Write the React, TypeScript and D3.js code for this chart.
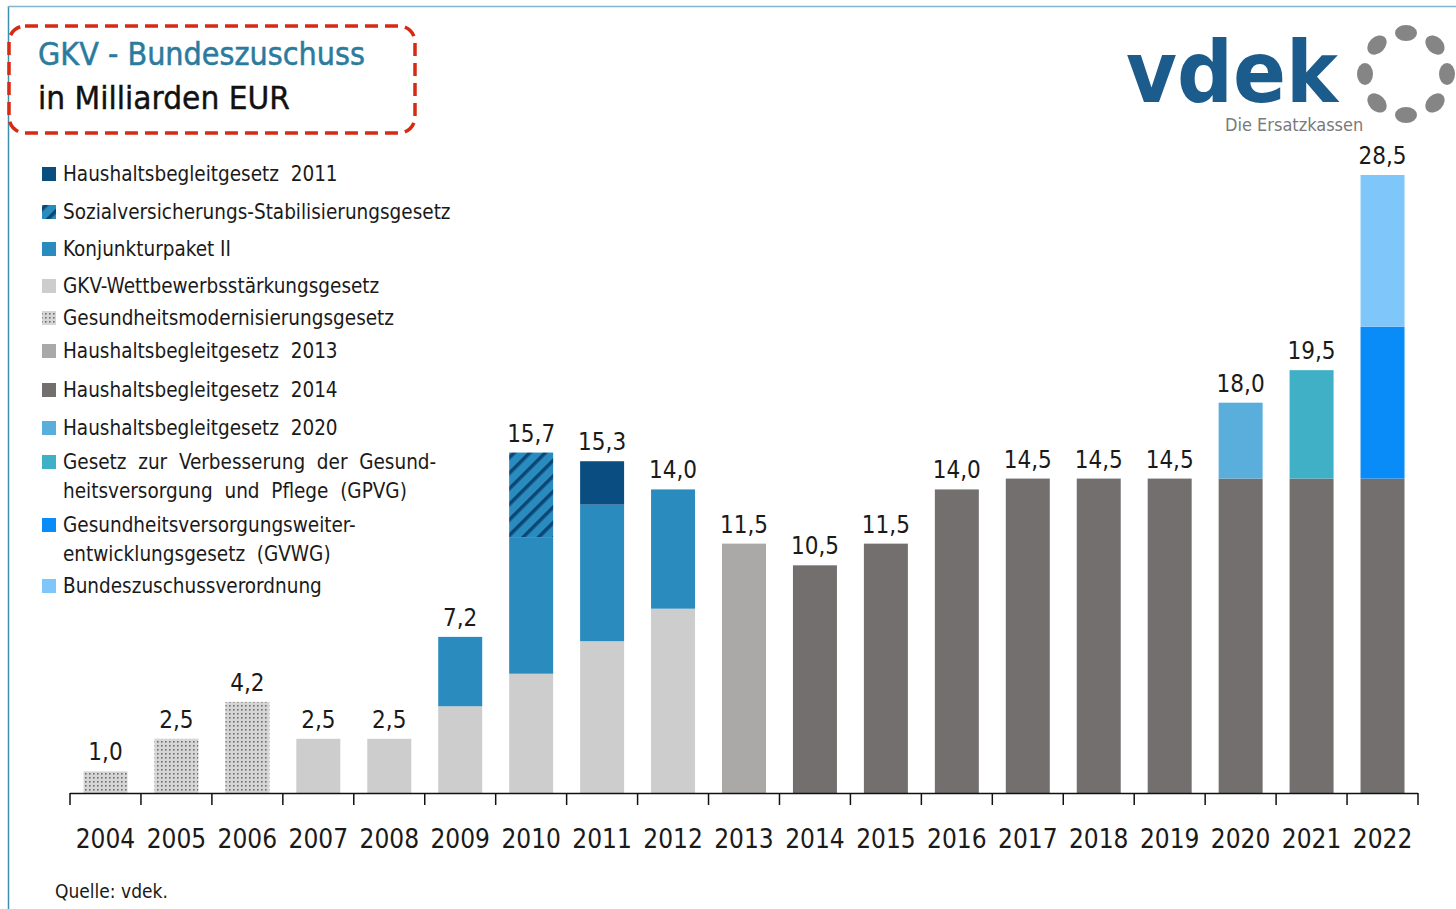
import * as d3 from "d3";

// Bundeszuschuss je Jahr, Mrd. EUR, nach Gesetz
const years = ["2004", "2005", "2006", "2007", "2008", "2009", "2010", "2011", "2012", "2013", "2014", "2015", "2016", "2017", "2018", "2019", "2020", "2021", "2022"];
const gmg = [1.0, 2.5, 4.2, 0, 0, 0, 0, 0, 0, 0, 0, 0, 0, 0, 0, 0, 0, 0, 0];
const gkvWsg = [0, 0, 0, 2.5, 2.5, 4.0, 5.5, 7.0, 8.5, 0, 0, 0, 0, 0, 0, 0, 0, 0, 0];
const hbg2013 = [0, 0, 0, 0, 0, 0, 0, 0, 0, 11.5, 0, 0, 0, 0, 0, 0, 0, 0, 0];
const hbg2014 = [0, 0, 0, 0, 0, 0, 0, 0, 0, 0, 10.5, 11.5, 14.0, 14.5, 14.5, 14.5, 14.5, 14.5, 14.5];
const konjunktur = [0, 0, 0, 0, 0, 3.2, 6.3, 6.3, 5.5, 0, 0, 0, 0, 0, 0, 0, 0, 0, 0];
const sozStab = [0, 0, 0, 0, 0, 0, 3.9, 0, 0, 0, 0, 0, 0, 0, 0, 0, 0, 0, 0];
const hbg2011 = [0, 0, 0, 0, 0, 0, 0, 2.0, 0, 0, 0, 0, 0, 0, 0, 0, 0, 0, 0];
const hbg2020 = [0, 0, 0, 0, 0, 0, 0, 0, 0, 0, 0, 0, 0, 0, 0, 0, 3.5, 0, 0];
const gpvg = [0, 0, 0, 0, 0, 0, 0, 0, 0, 0, 0, 0, 0, 0, 0, 0, 0, 5.0, 0];
const gvwg = [0, 0, 0, 0, 0, 0, 0, 0, 0, 0, 0, 0, 0, 0, 0, 0, 0, 0, 7.0];
const bzv = [0, 0, 0, 0, 0, 0, 0, 0, 0, 0, 0, 0, 0, 0, 0, 0, 0, 0, 7.0];

const seriesKeys = ["gmg", "gkvWsg", "hbg2013", "hbg2014", "konjunktur", "sozStab", "hbg2011", "hbg2020", "gpvg", "gvwg", "bzv"];
const seriesData: Record<string, number[]> = { gmg, gkvWsg, hbg2013, hbg2014, konjunktur, sozStab, hbg2011, hbg2020, gpvg, gvwg, bzv };
const fills: Record<string, string> = {
  gmg: "url(#dots)",
  gkvWsg: "#cdcdcd",
  hbg2013: "#aba9a8",
  hbg2014: "#736f6f",
  konjunktur: "#2a8bbf",
  sozStab: "url(#hatch)",
  hbg2011: "#0a4d80",
  hbg2020: "#5aaedb",
  gpvg: "#40b0c6",
  gvwg: "#0a8cf8",
  bzv: "#7fc7fb",
};

// legend, top to bottom
const legendKeys = ["hbg2011", "sozStab", "konjunktur", "gkvWsg", "gmg", "hbg2013", "hbg2014", "hbg2020", "gpvg", "gvwg", "bzv"];
const legendLabels = [
  ["Haushaltsbegleitgesetz  2011"],
  ["Sozialversicherungs-Stabilisierungsgesetz"],
  ["Konjunkturpaket II"],
  ["GKV-Wettbewerbsstärkungsgesetz"],
  ["Gesundheitsmodernisierungsgesetz"],
  ["Haushaltsbegleitgesetz  2013"],
  ["Haushaltsbegleitgesetz  2014"],
  ["Haushaltsbegleitgesetz  2020"],
  ["Gesetz  zur  Verbesserung  der  Gesund-", "heitsversorgung  und  Pflege  (GPVG)"],
  ["Gesundheitsversorgungsweiter-", "entwicklungsgesetz  (GVWG)"],
  ["Bundeszuschussverordnung"],
];
const legendY = [174, 212, 249, 286, 318, 351, 390, 428, 462, 525, 586];

const FONT = "'DejaVu Sans Condensed', 'DejaVu Sans', sans-serif";

export default function App() {
  const W = 1456;
  const H = 909;
  const base = 793;

  const rows = years.map((y, i) => {
    const r: any = { year: y };
    seriesKeys.forEach((k) => (r[k] = seriesData[k][i]));
    return r;
  });
  const stack = d3.stack<any>().keys(seriesKeys)(rows);
  const totals = years.map((_, i) => d3.sum(seriesKeys, (k) => seriesData[k][i]));

  const x = d3.scaleBand<string>().domain(years).range([70, 1418]).paddingInner(0.38).paddingOuter(0.19);
  const y = d3.scaleLinear().domain([0, 28.5]).range([base, 175]);
  const gap = (x.step() - x.bandwidth()) / 2;
  const tickXs = years.map((yr) => (x(yr) as number) - gap).concat([1418]);
  const fmt = (v: number) => v.toFixed(1).replace(".", ",");

  // vdek logo dots
  const dotAngles = d3.range(8).map((i) => (i * 45 - 90) * Math.PI / 180);

  return (
    <svg width={W} height={H} style={{ position: "absolute", left: 0, top: 0, background: "#fff" }}>
      <defs>
        <pattern id="dots" width="4" height="4" patternUnits="userSpaceOnUse">
          <rect width="4" height="4" fill="#d6d6d6" />
          <rect x="1" y="1" width="1.6" height="1.6" fill="#6e6e6e" />
        </pattern>
        <pattern id="hatch" width="11" height="11" patternUnits="userSpaceOnUse" patternTransform="rotate(45)">
          <rect width="11" height="11" fill="#2a8bbf" />
          <rect x="0" y="0" width="3.5" height="11" fill="#0b4775" />
        </pattern>
      </defs>
      <rect x={0} y={0} width={W} height={H} fill="#fff" />
      {/* frame */}
      <line x1={8.5} y1={6} x2={8.5} y2={H} stroke="#3d8fb0" strokeWidth={1.5} />
      <line x1={8} y1={6.5} x2={W} y2={6.5} stroke="#7fb8cc" strokeWidth={1.5} />

      {/* title */}
      <rect x={9} y={26} width={406} height={107} rx={16} fill="none" stroke="#d62b12" strokeWidth={3.5} strokeDasharray="13 7" />
      <text x={38} y={65} fontFamily={FONT} fontSize={32} fill="#2b7b9e" stroke="#2b7b9e" strokeWidth={0.5} textLength={327} lengthAdjust="spacingAndGlyphs">GKV - Bundeszuschuss</text>
      <text x={38} y={109} fontFamily={FONT} fontSize={32} fill="#111" stroke="#111" strokeWidth={0.4} textLength={252} lengthAdjust="spacingAndGlyphs">in Milliarden EUR</text>

      {/* logo */}
      <text x={1126} y={102} fontFamily="'DejaVu Sans', sans-serif" fontWeight="bold" fontSize={86} fill="#1b5c8c" textLength={212} lengthAdjust="spacingAndGlyphs">vdek</text>
      <text x={1225} y={131} fontFamily={FONT} fontSize={18} fill="#7a7a7a">Die Ersatzkassen</text>
      {dotAngles.map((a, i) => (
        <ellipse key={i} cx={0} cy={0} rx={11} ry={8} fill="#858585"
          transform={`translate(${1406 + 41 * Math.cos(a)},${74 + 41 * Math.sin(a)}) rotate(${(a * 180) / Math.PI + 90})`} />
      ))}

      {/* legend */}
      {legendKeys.map((k, i) => (
        <g key={k}>
          <rect x={42} y={legendY[i] - 7} width={14} height={14} fill={fills[k]} />
          {legendLabels[i].map((t, j) => (
            <text key={j} x={63} y={legendY[i] + 7 + j * 29} fontFamily={FONT} fontSize={20.5} fill="#1a1a1a" style={{ whiteSpace: "pre" }}>{t}</text>
          ))}
        </g>
      ))}

      {/* bars */}
      {stack.map((s) => (
        <g key={s.key} fill={fills[s.key]}>
          {s.map((d, i) =>
            d[1] - d[0] > 0 ? (
              <rect key={i} x={x(years[i])} y={y(d[1])} width={x.bandwidth()} height={y(d[0]) - y(d[1])} />
            ) : null
          )}
        </g>
      ))}

      {/* value labels */}
      {years.map((yr, i) => (
        <text key={yr} x={(x(yr) as number) + x.bandwidth() / 2} y={y(totals[i]) - 11} textAnchor="middle" fontFamily={FONT} fontSize={24} fill="#1a1a1a">
          {fmt(totals[i])}
        </text>
      ))}

      {/* axis */}
      <line x1={70} x2={1418} y1={base + 0.5} y2={base + 0.5} stroke="#111" strokeWidth={1.5} />
      {tickXs.map((tx, i) => (
        <line key={i} x1={tx} x2={tx} y1={base} y2={base + 12} stroke="#111" strokeWidth={1.5} />
      ))}
      {years.map((yr) => (
        <text key={yr} x={(x(yr) as number) + x.bandwidth() / 2} y={848} textAnchor="middle" fontFamily={FONT} fontSize={26} fill="#1a1a1a">
          {yr}
        </text>
      ))}

      <text x={55} y={898} fontFamily={FONT} fontSize={19} fill="#1a1a1a">Quelle: vdek.</text>
    </svg>
  );
}
